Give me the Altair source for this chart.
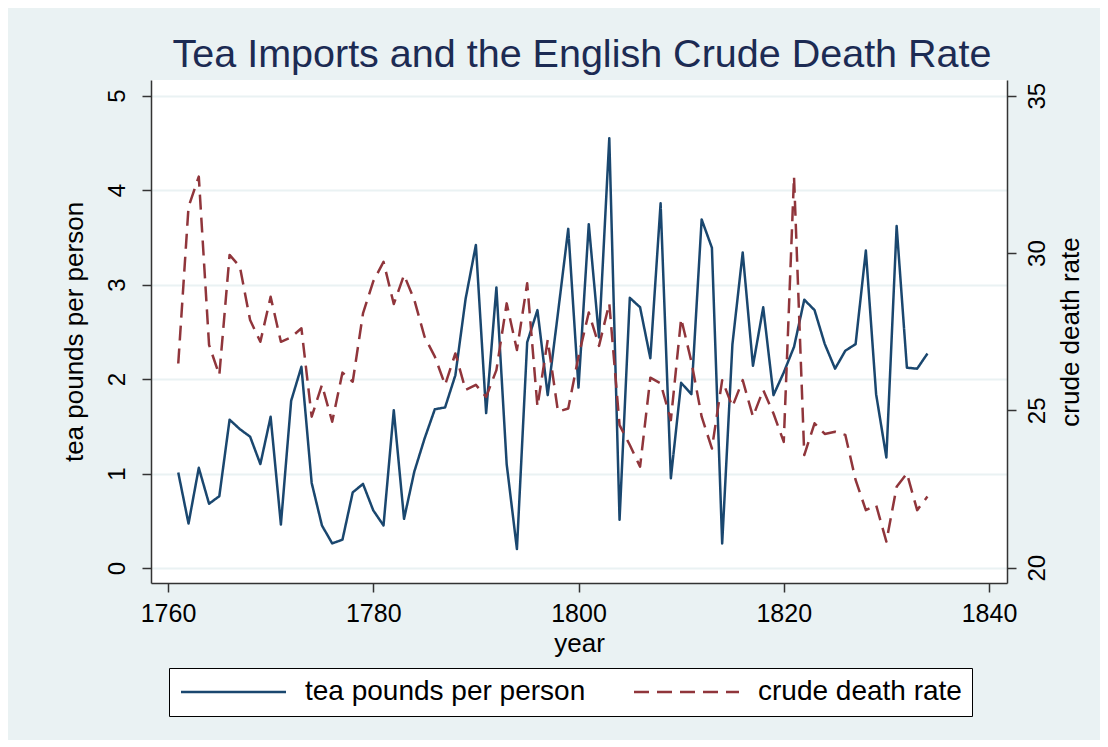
import altair as alt
import pandas as pd

# ---------------- data ----------------
years = list(range(1761, 1835))

tea = [1.01, 0.47, 1.06, 0.68, 0.76, 1.57, 1.47, 1.39, 1.10, 1.60,
       0.46, 1.77, 2.13, 0.90, 0.45, 0.26, 0.30, 0.80, 0.89, 0.61,
       0.45, 1.67, 0.52, 1.02, 1.37, 1.68, 1.70, 2.04, 2.85, 3.42,
       1.64, 2.97, 1.10, 0.20, 2.39, 2.73, 1.83, 2.70, 3.59, 1.91,
       3.64, 2.44, 4.55, 0.51, 2.86, 2.76, 2.22, 3.86, 0.95, 1.96,
       1.84, 3.69, 3.39, 0.26, 2.37, 3.34, 2.14, 2.76, 1.83, 2.07,
       2.34, 2.84, 2.73, 2.37, 2.11, 2.30, 2.37, 3.36, 1.84, 1.17,
       3.62, 2.12, 2.11, 2.27]

death = [26.49, 31.47, 32.43, 27.08, 26.12, 29.94, 29.57, 27.87, 27.18, 28.61,
         27.18, 27.32, 27.61, 24.80, 25.81, 24.64, 26.20, 25.91, 28.08, 29.10,
         29.72, 28.38, 29.30, 28.51, 27.34, 26.71, 25.81, 26.81, 25.65, 25.81,
         25.43, 26.28, 28.40, 26.92, 29.04, 25.12, 27.24, 24.96, 25.06, 26.71,
         28.11, 27.05, 28.40, 24.53, 23.90, 23.21, 26.04, 25.86, 24.69, 27.92,
         26.55, 24.80, 23.79, 25.96, 25.12, 25.96, 24.80, 25.65, 24.90, 24.00,
         32.43, 23.58, 24.59, 24.25, 24.32, 24.22, 22.79, 21.83, 21.99, 20.83,
         22.57, 23.00, 21.83, 22.26]

series_names = ["tea pounds per person", "crude death rate"]
series_colors = ["#1A476F", "#90353B"]
x_ticks = [1760, 1780, 1800, 1820, 1840]
tea_ticks = [0, 1, 2, 3, 4, 5]
death_ticks = [20, 25, 30, 35]
title_text = "Tea Imports and the English Crude Death Rate"

tea_df = pd.DataFrame({"year": years, "value": tea, "series": series_names[0]})
death_df = pd.DataFrame({"year": years, "value": death, "series": series_names[1]})

FONT = "Liberation Sans"
AXIS_DARK = "#333333"

legend = alt.Legend(
    title=None, orient="none", legendX=18, legendY=588,
    direction="horizontal", columns=2,
    fillColor="white", strokeColor="black", padding=10,
    symbolType="M-2.4,0H18.6", symbolSize=100, symbolStrokeWidth=2.5,
    labelFont=FONT, labelFontSize=28, labelColor="black",
    labelOffset=98, columnPadding=43, labelLimit=600,
)

color = alt.Color("series:N",
                  scale=alt.Scale(domain=series_names, range=series_colors),
                  legend=legend)
dash = alt.StrokeDash("series:N",
                      scale=alt.Scale(domain=series_names, range=[[1, 0], [15, 8]]),
                      legend=legend)

x_enc = alt.X(
    "year:Q",
    scale=alt.Scale(domain=[1758.343, 1841.754], nice=False, zero=False),
    axis=alt.Axis(values=x_ticks, format="d", title="year", grid=False,
                  tickSize=9, labelPadding=9, labelFontSize=25, labelFlush=False,
                  labelOverlap=False, titleFontSize=26,
                  titleBaseline="alphabetic", titleY=68),
)

tea_line = alt.Chart(tea_df).mark_line(strokeWidth=2.5, strokeJoin="round").encode(
    x=x_enc,
    y=alt.Y("value:Q",
            scale=alt.Scale(domain=[-0.159, 5.166], nice=False, zero=False),
            axis=alt.Axis(orient="left", values=tea_ticks, title="tea pounds per person",
                          grid=True, gridColor="#EAF2F3", gridWidth=2,
                          tickSize=9, labelAngle=270, labelAlign="center",
                          labelBaseline="alphabetic", labelPadding=18, labelFontSize=24,
                          labelOverlap=False, labelFlush=False,
                          titleAngle=270, titleAlign="center", titleBaseline="alphabetic",
                          titleX=-69, titleY=251.5, titleFontSize=26)),
    color=color,
    strokeDash=dash,
)

death_line = alt.Chart(death_df).mark_line(strokeWidth=2.5, strokeJoin="round").encode(
    x=x_enc,
    y=alt.Y("value:Q",
            scale=alt.Scale(domain=[19.514, 35.499], nice=False, zero=False),
            axis=alt.Axis(orient="right", values=death_ticks, title="crude death rate",
                          grid=False, tickSize=9, labelAngle=270, labelAlign="center",
                          labelBaseline="alphabetic", labelPadding=28, labelFontSize=24,
                          labelOverlap=False, labelFlush=False,
                          titleAngle=270, titleAlign="center", titleBaseline="alphabetic",
                          titleX=71, titleY=251.5, titleFontSize=26)),
    color=color,
    strokeDash=dash,
)

title_mark = alt.Chart(pd.DataFrame({"t": [title_text]})).mark_text(
    font=FONT, fontSize=39.5, color="#1C2B53", align="center", baseline="alphabetic"
).encode(text="t:N", x=alt.value(431), y=alt.value(-13))

chart = alt.layer(tea_line, death_line, title_mark).resolve_scale(
    y="independent"
).properties(
    width=856, height=503,
    padding={"left": 143, "top": 72, "right": 93, "bottom": 157},
    autosize=alt.AutoSizeParams(type="none"),
    background="#EAF2F3",
).configure_view(
    fill="white", strokeWidth=0
).configure_axis(
    labelFont=FONT, titleFont=FONT, labelColor="black", titleColor="black",
    titleFontWeight="normal", domainColor=AXIS_DARK, domainWidth=1.5,
    tickColor=AXIS_DARK, tickWidth=1.5,
)

chart.save("out.html", embed_options={"renderer": "svg", "actions": False})
